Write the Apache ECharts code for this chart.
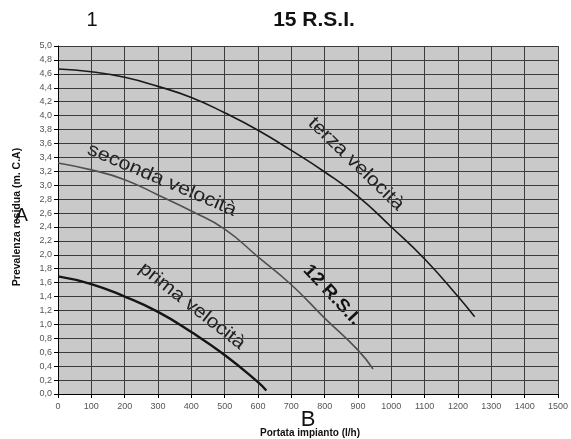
<!DOCTYPE html>
<html>
<head>
<meta charset="utf-8">
<script src="https://cdn.jsdelivr.net/npm/echarts@6/dist/echarts.min.js"></script>
<style>
html,body{margin:0;padding:0;background:#fff;}
#c{width:571px;height:439px;}
</style>
</head>
<body>
<div id="c"></div>
<script>
// Data
var terzaX   = [0, 100, 200, 300, 400, 500, 600, 700, 800, 900, 1000, 1100, 1200, 1250];
var terzaY   = [4.67, 4.63, 4.55, 4.42, 4.26, 4.04, 3.79, 3.50, 3.19, 2.84, 2.40, 1.94, 1.40, 1.11];
var secondaX = [0, 100, 200, 300, 400, 500, 600, 700, 800, 900, 945];
var secondaY = [3.32, 3.22, 3.08, 2.86, 2.63, 2.37, 1.97, 1.57, 1.09, 0.63, 0.36];
var primaX   = [0, 100, 200, 300, 400, 500, 600, 625];
var primaY   = [1.69, 1.58, 1.40, 1.18, 0.89, 0.56, 0.17, 0.05];

var titleText = '15 R.S.I.';
var xAxisName = 'Portata impianto (l/h)';
var yAxisName = 'Prevalenza residua (m. C.A)';

function pairs(xs, ys) { return xs.map(function (x, i) { return [x, ys[i]]; }); }

var FONT = '"Liberation Sans", Arial, sans-serif';
var chart = echarts.init(document.getElementById('c'), null, {renderer: 'canvas'});

chart.setOption({
  backgroundColor: '#ffffff',
  animation: false,
  grid: {left: 58, right: 10, top: 46, bottom: 45, show: true, backgroundColor: '#c9c9c9', borderWidth: 0},
  xAxis: {
    type: 'value', min: 0, max: 1500, interval: 100,
    axisLine: {show: true, onZero: false, lineStyle: {color: '#000', width: 1}},
    axisTick: {show: true, length: 4, lineStyle: {color: '#000'}},
    axisLabel: {color: '#555', fontSize: 9, fontFamily: FONT, margin: 8,
      formatter: function (v) { return String(v); }},
    splitLine: {show: true, lineStyle: {color: '#3c3c3c', width: 1}}
  },
  yAxis: {
    type: 'value', min: 0, max: 5, interval: 0.2,
    axisLine: {show: true, lineStyle: {color: '#000', width: 1}},
    axisTick: {show: true, length: 4, lineStyle: {color: '#000'}},
    axisLabel: {color: '#555', fontSize: 9, fontFamily: FONT, margin: 6,
      formatter: function (v) { return v.toFixed(1).replace('.', ','); }},
    splitLine: {show: true, lineStyle: {color: '#3c3c3c', width: 1}}
  },
  series: [
    {name: 'terza velocità', type: 'line', smooth: true, showSymbol: false,
     data: pairs(terzaX, terzaY), lineStyle: {color: '#1a1a1a', width: 1.6}},
    {name: 'seconda velocità', type: 'line', smooth: true, showSymbol: false,
     data: pairs(secondaX, secondaY), lineStyle: {color: '#505050', width: 1.6}},
    {name: 'prima velocità', type: 'line', smooth: true, showSymbol: false,
     data: pairs(primaX, primaY), lineStyle: {color: '#151515', width: 2.4}}
  ],
  graphic: [
    {type: 'text', x: 92, y: 20, style: {text: '1', font: '20px ' + FONT, fill: '#111', textAlign: 'center', textVerticalAlign: 'middle'}},
    {type: 'text', x: 314, y: 20, style: {text: titleText, font: 'bold 21px ' + FONT, fill: '#111', textAlign: 'center', textVerticalAlign: 'middle'}},
    {type: 'text', x: 17, y: 217, rotation: Math.PI / 2, style: {text: yAxisName, font: 'bold 10.5px ' + FONT, fill: '#111', textAlign: 'center', textVerticalAlign: 'middle'}},
    {type: 'text', x: 21.5, y: 216, style: {text: 'A', font: '19px ' + FONT, fill: '#111', textAlign: 'center', textVerticalAlign: 'middle'}},
    {type: 'text', x: 310, y: 433, style: {text: xAxisName, font: 'bold 10px ' + FONT, fill: '#111', textAlign: 'center', textVerticalAlign: 'middle'}},
    {type: 'text', x: 308, y: 420, style: {text: 'B', font: '22px ' + FONT, fill: '#111', textAlign: 'center', textVerticalAlign: 'middle'}},
    {type: 'text', x: 162, y: 180, rotation: -23 * Math.PI / 180, scaleX: 1.13, style: {text: 'seconda velocità', font: '19px ' + FONT, fill: '#222', textAlign: 'center', textVerticalAlign: 'middle'}},
    {type: 'text', x: 356, y: 164, rotation: -44 * Math.PI / 180, scaleX: 1.12, style: {text: 'terza velocità', font: '19px ' + FONT, fill: '#222', textAlign: 'center', textVerticalAlign: 'middle'}},
    {type: 'text', x: 192, y: 306, rotation: -38 * Math.PI / 180, scaleX: 1.1, style: {text: 'prima velocità', font: '19px ' + FONT, fill: '#222', textAlign: 'center', textVerticalAlign: 'middle'}},
    {type: 'text', x: 332, y: 295, rotation: -47 * Math.PI / 180, scaleX: 1.08, style: {text: '12 R.S.I.', font: 'bold 18px ' + FONT, fill: '#111', textAlign: 'center', textVerticalAlign: 'middle'}}
  ]
});
</script>
</body>
</html>
